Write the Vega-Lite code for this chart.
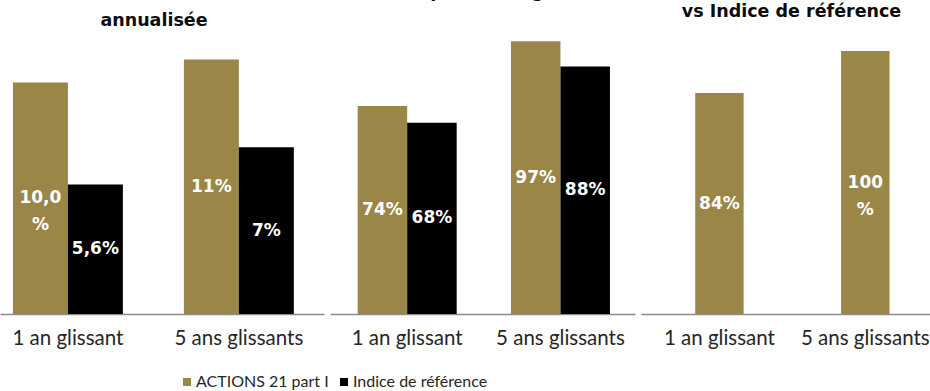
{
  "$schema": "https://vega.github.io/schema/vega-lite/v6.json",
  "background": "white",
  "padding": {"left": 0, "right": 0, "top": -18, "bottom": 0},
  "spacing": 6,
  "bounds": "flush",
  "data": {
    "values": [
      {"panel": 1, "periode": "1 an glissant", "serie": "ACTIONS 21 part I", "valeur": 10.0, "label": "10,0\n%"},
      {"panel": 1, "periode": "1 an glissant", "serie": "Indice de référence", "valeur": 5.6, "label": "5,6%"},
      {"panel": 1, "periode": "5 ans glissants", "serie": "ACTIONS 21 part I", "valeur": 11.0, "label": "11%"},
      {"panel": 1, "periode": "5 ans glissants", "serie": "Indice de référence", "valeur": 7.2, "label": "7%"},
      {"panel": 2, "periode": "1 an glissant", "serie": "ACTIONS 21 part I", "valeur": 74, "label": "74%"},
      {"panel": 2, "periode": "1 an glissant", "serie": "Indice de référence", "valeur": 68, "label": "68%"},
      {"panel": 2, "periode": "5 ans glissants", "serie": "ACTIONS 21 part I", "valeur": 97, "label": "97%"},
      {"panel": 2, "periode": "5 ans glissants", "serie": "Indice de référence", "valeur": 88, "label": "88%"},
      {"panel": 3, "periode": "1 an glissant", "serie": "ACTIONS 21 part I", "valeur": 84, "label": "84%"},
      {"panel": 3, "periode": "5 ans glissants", "serie": "ACTIONS 21 part I", "valeur": 100, "label": "100\n%"}
    ]
  },
  "resolve": {"scale": {"x": "independent", "y": "independent", "xOffset": "independent", "color": "shared"}},
  "hconcat": [
    {
      "width": 324,
      "height": 284,
      "title": {"text": "annualisée", "anchor": "middle", "frame": "group", "dx": -8, "offset": 1},
      "transform": [{"filter": "datum.panel === 1"}],
      "layer": [
        {
          "mark": {"type": "bar"},
          "encoding": {
            "x": {"field": "periode", "type": "nominal", "sort": null, "scale": {"paddingInner": 0.357, "paddingOuter": 0.126, "align": 0.3}},
            "xOffset": {"field": "serie", "type": "nominal", "sort": null, "scale": {"paddingInner": 0, "paddingOuter": 0}},
            "y": {"field": "valeur", "type": "quantitative", "scale": {"domain": [0, 12.27]}, "axis": null},
            "color": {
              "field": "serie", "type": "nominal",
              "scale": {"domain": ["ACTIONS 21 part I", "Indice de référence"], "range": ["#9a8748", "#000000"]},
              "legend": {"orient": "none", "legendX": 179, "legendY": 344, "direction": "horizontal", "title": null, "symbolType": "square", "symbolSize": 64, "symbolStrokeWidth": 0, "labelFont": "Lato", "labelFontSize": 16, "labelColor": "#262626", "labelOffset": 1, "columnPadding": 7}
            }
          }
        },
        {
          "mark": {"type": "text", "fill": "white", "font": "DejaVu Sans", "fontWeight": "bold", "fontSize": 17, "baseline": "middle", "lineBreak": "\n", "lineHeight": 27},
          "encoding": {
            "x": {"field": "periode", "type": "nominal", "sort": null},
            "xOffset": {"field": "serie", "type": "nominal", "sort": null},
            "y": {"field": "valeur", "type": "quantitative", "scale": {"domain": [0, 24.54]}, "axis": null},
            "text": {"field": "label"}
          }
        }
      ],
      "resolve": {"scale": {"y": "independent"}}
    },
    {
      "width": 305,
      "height": 284,
      "title": {"text": "Fréquence de gain", "anchor": "middle", "frame": "group", "dx": 1, "offset": 30},
      "transform": [{"filter": "datum.panel === 2"}],
      "layer": [
        {
          "mark": {"type": "bar"},
          "encoding": {
            "x": {"field": "periode", "type": "nominal", "sort": null, "scale": {"paddingInner": 0.354, "paddingOuter": 0.172, "align": 0.525}},
            "xOffset": {"field": "serie", "type": "nominal", "sort": null, "scale": {"paddingInner": 0, "paddingOuter": 0}},
            "y": {"field": "valeur", "type": "quantitative", "scale": {"domain": [0, 101]}, "axis": null},
            "color": {"field": "serie", "type": "nominal"}
          }
        },
        {
          "mark": {"type": "text", "fill": "white", "font": "DejaVu Sans", "fontWeight": "bold", "fontSize": 17, "baseline": "middle", "lineBreak": "\n", "lineHeight": 27},
          "encoding": {
            "x": {"field": "periode", "type": "nominal", "sort": null},
            "xOffset": {"field": "serie", "type": "nominal", "sort": null},
            "y": {"field": "valeur", "type": "quantitative", "scale": {"domain": [0, 202]}, "axis": null},
            "text": {"field": "label"}
          }
        }
      ],
      "resolve": {"scale": {"y": "independent"}}
    },
    {
      "width": 289,
      "height": 284,
      "title": {"text": "vs Indice de référence", "anchor": "middle", "frame": "group", "dx": 6, "offset": 10},
      "transform": [{"filter": "datum.panel === 3"}],
      "layer": [
        {
          "mark": {"type": "bar"},
          "encoding": {
            "x": {"field": "periode", "type": "nominal", "sort": null, "scale": {"paddingInner": 0.668, "paddingOuter": 0.3245, "align": 0.5726}},
            "y": {"field": "valeur", "type": "quantitative", "scale": {"domain": [0, 108]}, "axis": null},
            "color": {"field": "serie", "type": "nominal"}
          }
        },
        {
          "mark": {"type": "text", "fill": "white", "font": "DejaVu Sans", "fontWeight": "bold", "fontSize": 17, "baseline": "middle", "lineBreak": "\n", "lineHeight": 27},
          "encoding": {
            "x": {"field": "periode", "type": "nominal", "sort": null},
            "y": {"field": "valeur", "type": "quantitative", "scale": {"domain": [0, 216]}, "axis": null},
            "text": {"field": "label"}
          }
        }
      ],
      "resolve": {"scale": {"y": "independent"}}
    }
  ],
  "config": {
    "view": {"stroke": null},
    "title": {"font": "DejaVu Sans", "fontWeight": "bold", "fontSize": 17.5, "color": "#0d0d0d"},
    "axisX": {"title": null, "labelAngle": 0, "ticks": false, "grid": false, "labelFont": "Lato", "labelFontSize": 20.5, "labelColor": "#262626", "labelPadding": 14, "domainColor": "#8c8c8c", "domainWidth": 1.5}
  }
}
